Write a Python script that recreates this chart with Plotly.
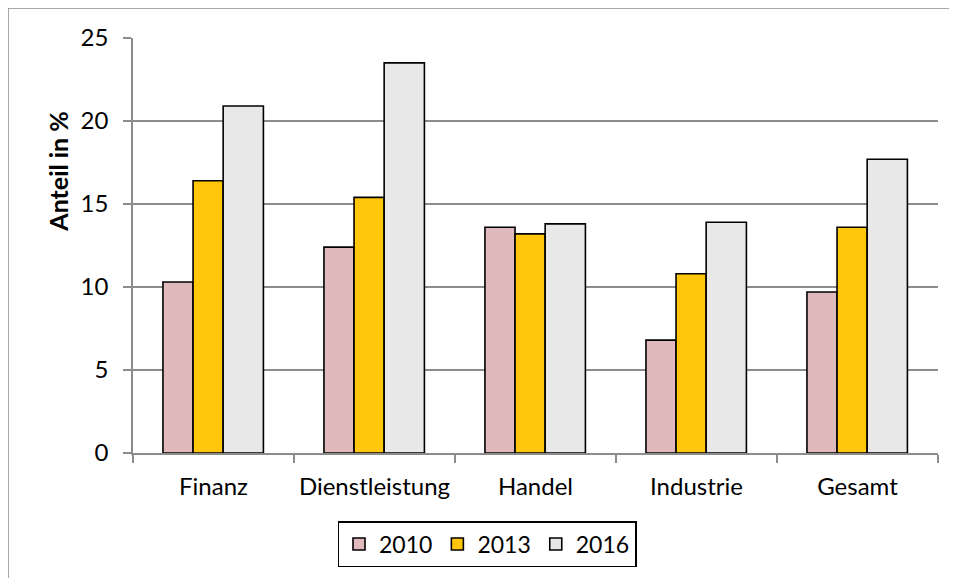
import plotly.graph_objects as go

categories = ["Finanz", "Dienstleistung", "Handel", "Industrie", "Gesamt"]
years = ["2010", "2013", "2016"]
v2010 = [10.3, 12.4, 13.6, 6.8, 9.7]
v2013 = [16.4, 15.4, 13.2, 10.8, 13.6]
v2016 = [20.9, 23.5, 13.8, 13.9, 17.7]
colors = ["#E0B9BD", "#FFC60B", "#E8E8E8"]
widths = [0.187, 0.187, 0.25]
offsets = [-0.314, -0.127, 0.06]
y_title = "Anteil in %"

# page offset caused by the default body margin
OFF = 8
W, H = 957 - OFF, 578 - OFF
# plot area in page pixels: x 133..938, y 38..454
ml, mt = 133 - OFF, 38 - OFF
mr = (OFF + W) - 938
mb = (OFF + H) - 454
pw, ph = 938 - 133, 454 - 38

def px_x(p):
    return (p - 133) / pw

def px_y(p):
    return (454 - p) / ph

font = "Lato, 'Open Sans', sans-serif"
fig = go.Figure()
for name, vals, c, w, o in zip(years, [v2010, v2013, v2016], colors, widths, offsets):
    fig.add_trace(go.Bar(
        x=categories, y=vals, name=name,
        marker=dict(color=c, line=dict(color="#000000", width=1.6)),
        width=w, offset=o,
    ))

fig.update_layout(
    width=W, height=H,
    margin=dict(l=ml, r=mr, t=mt, b=mb),
    paper_bgcolor="white", plot_bgcolor="white",
    barmode="overlay",
    font=dict(family=font, size=24, color="#000000"),
    showlegend=True,
    legend=dict(
        orientation="h", x=px_x(487), xanchor="center", y=px_y(521), yanchor="top",
        bordercolor="#000000", borderwidth=1.5, bgcolor="white",
        font=dict(size=23), itemwidth=30, tracegroupgap=0,
    ),
    xaxis=dict(
        type="category", showgrid=False, showline=True, linecolor="#8c8c8c", linewidth=1.5,
        ticks="outside", tickson="boundaries", ticklen=8, tickcolor="#8c8c8c", tickwidth=1.5,
        range=[-0.5, 4.5], tickfont=dict(size=24), ticklabelstandoff=11,
    ),
    yaxis=dict(
        range=[0, 25], dtick=5, showgrid=True, gridcolor="#8c8c8c", gridwidth=1.5,
        showline=True, linecolor="#8c8c8c", linewidth=1.5,
        ticks="outside", ticklen=8, tickcolor="#8c8c8c", tickwidth=1.5,
        tickfont=dict(size=24), zeroline=False, ticklabelstandoff=10,
    ),
    annotations=[dict(
        text="<b>" + y_title + "</b>", textangle=-90, showarrow=False,
        xref="paper", yref="paper", x=px_x(58), y=px_y(172),
        xanchor="center", yanchor="middle", font=dict(size=25),
    )],
    shapes=[dict(
        type="rect", xref="paper", yref="paper",
        x0=px_x(8), x1=px_x(975), y0=px_y(595), y1=px_y(8),
        line=dict(color="#8c8c8c", width=1.5), fillcolor="rgba(0,0,0,0)", layer="below",
    )],
)

fig.write_html("out.html")
